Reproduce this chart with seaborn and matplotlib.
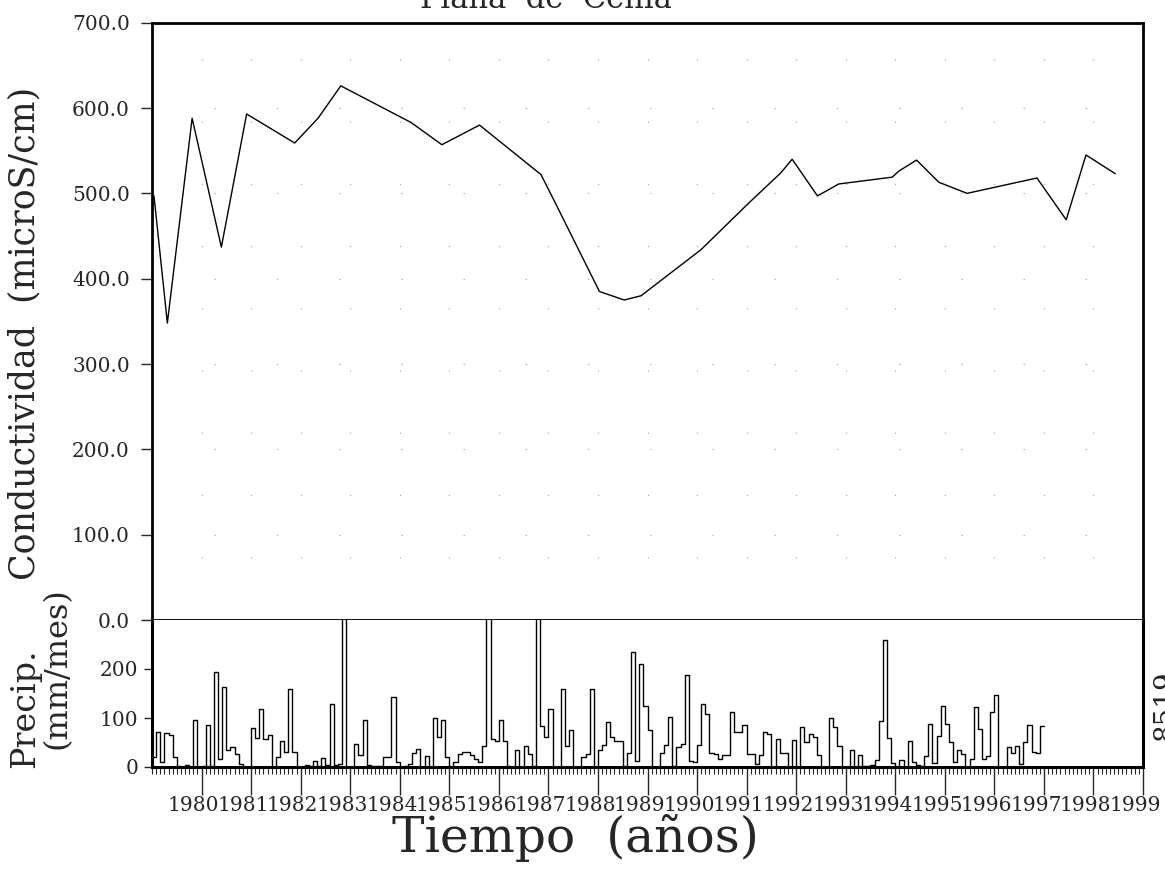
import seaborn as sns
import matplotlib.pyplot as plt
import matplotlib.transforms as mtransforms
from matplotlib.ticker import MultipleLocator, FixedLocator
import numpy as np

# Conductivity samples (decimal year, microS/cm)
cond_year = [1979.04, 1979.31, 1979.81, 1980.40, 1980.91, 1981.88, 1982.35, 1982.81,
             1984.23, 1984.85, 1985.61, 1986.85, 1987.12, 1988.03, 1988.53, 1988.87,
             1990.08, 1991.05, 1991.69, 1991.92, 1992.43, 1992.86, 1993.94, 1994.07,
             1994.43, 1994.88, 1995.45, 1996.86, 1997.45, 1997.85, 1998.44]
cond_value = [497, 348, 588, 437, 593, 559, 588, 626,
              583, 557, 580, 522, 491, 385, 375, 380,
              434, 489, 524, 540, 497, 511, 519, 526,
              539, 513, 500, 518, 469, 545, 523]

# Monthly precipitation (mm/mes), Jan 1979 - Dec 1996
precip = [
    20, 71, 10, 69, 66, 20, 3, 0, 5, 0, 96, 0,          # 1979
    2, 86, 3, 193, 17, 164, 34, 40, 26, 7, 0, 0,        # 1980
    80, 59, 118, 57, 66, 0, 20, 54, 30, 160, 30, 0,     # 1981
    0, 5, 3, 13, 3, 19, 5, 128, 5, 7, 420, 0,           # 1982
    0, 47, 24, 95, 5, 3, 3, 3, 20, 20, 143, 10,         # 1983
    0, 3, 7, 28, 37, 0, 22, 0, 100, 62, 96, 20,         # 1984
    0, 10, 27, 30, 30, 24, 17, 10, 42, 350, 57, 54,     # 1985
    95, 54, 3, 0, 34, 0, 42, 27, 3, 380, 84, 61,        # 1986
    118, 0, 0, 159, 42, 76, 0, 0, 20, 26, 159, 0,       # 1987
    34, 44, 91, 62, 54, 54, 3, 28, 235, 12, 211, 125,   # 1988
    76, 0, 0, 28, 44, 103, 3, 41, 46, 187, 12, 10,      # 1989
    45, 128, 108, 28, 27, 16, 25, 25, 113, 71, 71, 86,  # 1990
    26, 26, 7, 25, 72, 68, 0, 57, 28, 28, 0, 55,        # 1991
    0, 81, 51, 68, 61, 24, 0, 0, 101, 81, 42, 0,        # 1992
    0, 34, 0, 24, 3, 3, 5, 14, 93, 260, 59, 8,          # 1993
    0, 15, 0, 54, 10, 5, 3, 22, 88, 9, 64, 124,         # 1994
    88, 52, 11, 35, 26, 0, 17, 122, 78, 17, 22, 113,    # 1995
    147, 0, 0, 41, 28, 43, 7, 52, 86, 30, 28, 83,       # 1996
]
precip_start = 1979
tick_years = list(range(1980, 2000))
cond_ticks = [0, 100, 200, 300, 400, 500, 600, 700]
precip_ticks = [0, 100, 200]

sns.set_style('white')
plt.rcParams['font.family'] = ['DejaVu Serif', 'Liberation Serif']
label_font = 'DejaVu Serif'

W, H = 1165, 873
fig = plt.figure(figsize=(W / 100, H / 100), dpi=100)
left, right = 152, 1143
ax1 = fig.add_axes([left / W, 1 - 620 / H, (right - left) / W, (620 - 22.7) / H])
ax2 = fig.add_axes([left / W, 1 - 767 / H, (right - left) / W, (767 - 620) / H])

# Conductivity line
sns.lineplot(x=cond_year, y=cond_value, color='black', linewidth=1.0, ax=ax1)
ax1.set_xlim(1979, 1999)
ax1.set_ylim(0, 700)
ax1.set_yticks(cond_ticks)
ax1.set_yticklabels([f'{v:.1f}' for v in cond_ticks])
ax1.xaxis.set_major_locator(FixedLocator(tick_years))
ax1.tick_params(axis='x', length=0, labelbottom=False)
ax1.tick_params(axis='y', direction='out', length=8, width=1, pad=8, labelsize=14.5, left=True)
ax1.grid(True, color='0.6', linestyle=(0, (1, 55)), linewidth=0.8)
ax1.set_xlabel('')
ax1.set_ylabel('')
for side in ['left', 'right', 'top']:
    ax1.spines[side].set_linewidth(2.0)
    ax1.spines[side].set_color('black')
ax1.spines['bottom'].set_linewidth(1.3)
ax1.spines['bottom'].set_color('black')
ax1.spines['bottom'].set_zorder(5)

# Precipitation step histogram
px = precip_start + np.arange(len(precip) + 1) / 12.0
py = precip + [precip[-1]]
sns.lineplot(x=px, y=py, drawstyle='steps-post', color='black', linewidth=1.0,
             estimator=None, ax=ax2)
ax2.set_xlim(1979, 1999)
ax2.set_ylim(0, 300)
ax2.set_yticks(precip_ticks)
ax2.set_yticklabels([str(v) for v in precip_ticks])
ax2.set_xticks(tick_years)
ax2.set_xticklabels([str(y) for y in tick_years])
ax2.xaxis.set_minor_locator(MultipleLocator(1 / 12))
ax2.tick_params(axis='x', which='major', direction='out', length=20, width=1, pad=1,
                labelsize=14.5, bottom=True)
ax2.tick_params(axis='x', which='minor', direction='out', length=5, width=0.8, bottom=True)
ax2.tick_params(axis='y', direction='out', length=6, width=1, pad=4, labelsize=14.5, left=True)
ax2.set_xlabel('')
ax2.set_ylabel('')
ax2.spines['top'].set_visible(False)
for side in ['left', 'right', 'bottom']:
    ax2.spines[side].set_linewidth(2.2)
    ax2.spines[side].set_color('black')

shift = mtransforms.ScaledTranslation(-8 / 100, 0, fig.dpi_scale_trans)
for lbl in ax2.get_xticklabels():
    lbl.set_transform(lbl.get_transform() + shift)

# Labels and annotations
fig.text(24 / W, 1 - 333 / H, 'Conductividad  (microS/cm)', rotation=90,
         ha='center', va='center', fontsize=25, family=label_font)
fig.text(25 / W, 1 - 708 / H, 'Precip.', rotation=90,
         ha='center', va='center', fontsize=24, family=label_font)
fig.text(57 / W, 1 - 668 / H, '(mm/mes)', rotation=90,
         ha='center', va='center', fontsize=23, family=label_font)
fig.text(575 / W, 1 - 838 / H, 'Tiempo  (años)', ha='center', va='center',
         fontsize=35, family=label_font)
fig.text(420 / W, 1 - 8 / H, 'Plana  de  Cenia', ha='left', va='baseline',
         fontsize=22, family=label_font)
fig.text(1152 / W, 1 - 706 / H, '8519', rotation=90, ha='left', va='center',
         fontsize=20, family=label_font)

fig.savefig('out.png', dpi=100, facecolor='white')
